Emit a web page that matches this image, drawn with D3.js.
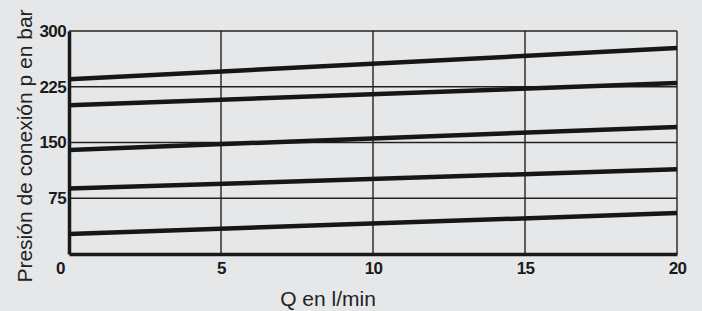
<!DOCTYPE html>
<html lang="es">
<head>
<meta charset="UTF-8" />
<title>Presión de conexión</title>
<style>
  body { margin: 0; background: #e6e7e8; }
  svg { display: block; }
</style>
</head>
<body>
<script src="https://cdn.jsdelivr.net/npm/d3@7"></script>
<div id="app"></div>
<script>
// DATOS
const caudal = [0, 20];                 // Q en l/min (extremos de cada recta)
const serie1 = [235, 277];
const serie2 = [200, 230];
const serie3 = [140, 171];
const serie4 = [88, 114];
const serie5 = [27, 55];
const series = [serie1, serie2, serie3, serie4, serie5];
const xTicks = [0, 5, 10, 15, 20];
const yTicks = [75, 150, 225, 300];

const w = 702, h = 311;
const m = { left: 69, right: 25, top: 31, bottom: 57 };

const svg = d3.select("#app").append("svg")
  .attr("width", w).attr("height", h);

const x = d3.scaleLinear().domain([0, 20]).range([m.left, w - m.right]);
const y = d3.scaleLinear().domain([0, 300]).range([h - m.bottom, m.top]);

// REJILLA
svg.append("g").selectAll("line").data(yTicks).enter().append("line")
  .attr("x1", x(0)).attr("x2", x(20))
  .attr("y1", d => y(d)).attr("y2", d => y(d))
  .attr("stroke", "#222").attr("stroke-width", 1.4);

svg.append("g").selectAll("line").data(xTicks.slice(1)).enter().append("line")
  .attr("x1", d => x(d)).attr("x2", d => x(d))
  .attr("y1", y(0)).attr("y2", y(300))
  .attr("stroke", "#222").attr("stroke-width", 1.4);

// EJES
const xAxis = d3.axisBottom(x).tickValues(xTicks).tickSize(0).tickPadding(8);
const gx = svg.append("g")
  .attr("transform", "translate(0," + y(0) + ")")
  .call(xAxis);
gx.select(".domain").attr("stroke", "#1a1a1a").attr("stroke-width", 3.5);
gx.selectAll("text").filter(d => d === 0).attr("dx", -9);

const yAxis = d3.axisLeft(y).tickValues(yTicks).tickSize(0).tickPadding(3);
const gy = svg.append("g")
  .attr("transform", "translate(" + x(0) + ",0)")
  .call(yAxis);
gy.select(".domain").attr("stroke", "#1a1a1a").attr("stroke-width", 3.5);

svg.selectAll(".tick text")
  .attr("fill", "#1a1a1a")
  .style("font-family", "'Liberation Sans', Arial, sans-serif")
  .style("font-weight", "bold")
  .style("font-size", "17px")
  .style("letter-spacing", "-0.6px");

// LINEAS
const line = d3.line().x((d, i) => x(caudal[i])).y(d => y(d));
svg.append("g").selectAll("path").data(series).enter().append("path")
  .attr("d", line)
  .attr("fill", "none")
  .attr("stroke", "#161616")
  .attr("stroke-width", 4.5);

// TITULOS
svg.append("text")
  .attr("x", 328).attr("y", 306)
  .attr("text-anchor", "middle")
  .style("font-family", "'Liberation Sans', Arial, sans-serif")
  .style("font-size", "21px")
  .attr("fill", "#222")
  .text("Q en l/min");

svg.append("text")
  .attr("transform", "translate(32,146) rotate(-90)")
  .attr("text-anchor", "middle")
  .style("font-family", "'Liberation Sans', Arial, sans-serif")
  .style("font-size", "21px")
  .attr("fill", "#222")
  .text("Presión de conexión p en bar");
</script>
</body>
</html>
